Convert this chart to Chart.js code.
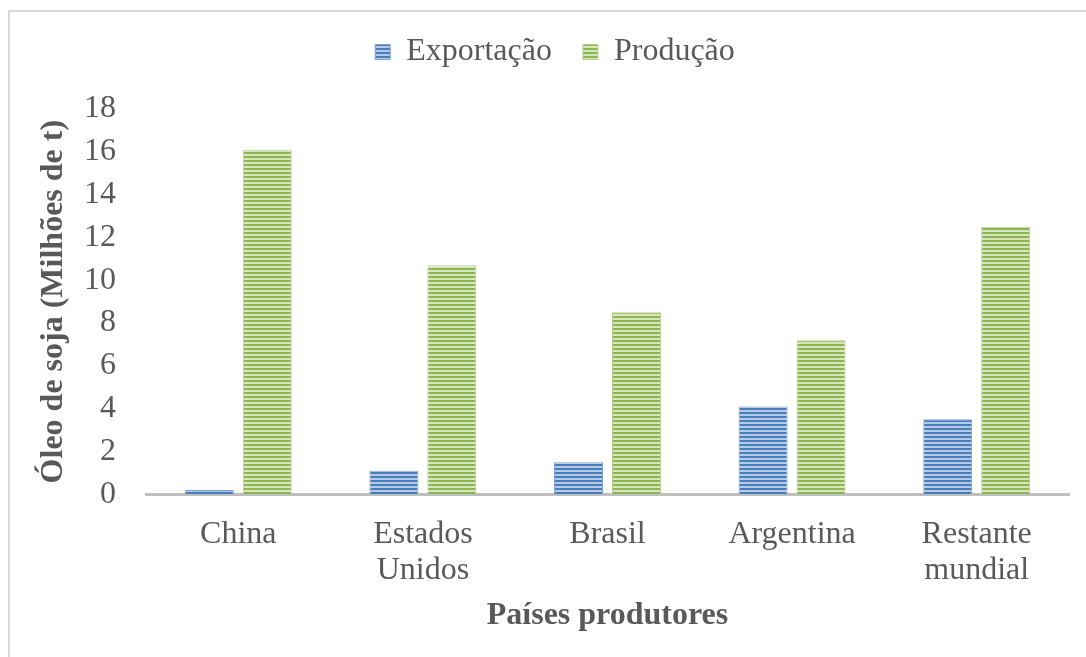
<!DOCTYPE html>
<html><head><meta charset="utf-8">
<script src="https://cdn.jsdelivr.net/npm/chart.js@4"></script>
<style>
html,body{margin:0;padding:0;background:#fff;overflow:hidden;}
#wrap{position:absolute;left:0;top:0;width:1086px;height:657px;}
#frame{position:absolute;left:8px;top:10px;width:1100px;height:700px;border:2px solid #d9d9d9;box-sizing:border-box;}
</style></head>
<body>
<div id="frame"></div>
<div id="wrap"><canvas id="c" width="1086" height="657"></canvas></div>
<script>
const categories = [['China'], ['Estados','Unidos'], ['Brasil'], ['Argentina'], ['Restante','mundial']];
const exportacao = [0.2, 1.1, 1.5, 4.1, 3.5];
const producao = [16.1, 10.7, 8.5, 7.2, 12.5];
const seriesNames = ['Exportação', 'Produção'];

function stripe(dark, light) {
  const c = document.createElement('canvas');
  c.width = 8; c.height = 4;
  const g = c.getContext('2d');
  g.fillStyle = light; g.fillRect(0,0,8,4);
  g.fillStyle = dark; g.fillRect(0,0,8,2);
  return g.createPattern(c, 'repeat');
}
const ctx = document.getElementById('c').getContext('2d');
const bluePat = stripe('#4a7ebb', '#b4cae6');
const greenPat = stripe('#8db651', '#d6e6bf');
const font = 'Liberation Serif, Times New Roman, serif';
const txt = '#595959';

const legendShift = {
  id: 'legendShift',
  afterLayout(chart) {
    if (chart.legend) { chart.legend.left += 3; chart.legend.right += 3; }
  }
};

const chart = new Chart(ctx, {
  type: 'bar',
  data: {
    labels: categories,
    datasets: [
      {label: seriesNames[0], data: exportacao, backgroundColor: bluePat, borderColor: '#7da1cf', borderWidth: 1, borderSkipped: 'bottom'},
      {label: seriesNames[1], data: producao, backgroundColor: greenPat, borderColor: '#b5d08e', borderWidth: 1, borderSkipped: 'bottom'}
    ]
  },
  plugins: [legendShift],
  options: {
    responsive: false,
    animation: false,
    devicePixelRatio: 1,
    categoryPercentage: 0.628,
    barPercentage: 0.845,
    layout: {padding: {left: 35, right: 17, top: 5, bottom: 18}},
    plugins: {
      legend: {
        position: 'top',
        labels: {font: {family: font, size: 32}, color: txt, boxWidth: 15, boxHeight: 15, padding: 31}
      },
      tooltip: {enabled: false}
    },
    scales: {
      x: {
        grid: {display: false, drawTicks: false},
        border: {display: true, color: '#bfbfbf', width: 3},
        ticks: {font: {family: font, size: 32, lineHeight: 1.13}, color: txt, padding: 22, maxRotation: 0, autoSkip: false},
        title: {display: true, text: 'Países produtores', font: {family: font, size: 32, weight: 'bold'}, color: txt, padding: {top: -14}}
      },
      y: {
        min: 0, max: 18,
        afterFit(scale) { scale.width = 111; },
        ticks: {stepSize: 2, font: {family: font, size: 32}, color: txt, padding: 30},
        grid: {display: false, drawTicks: false},
        border: {display: false},
        title: {display: true, text: 'Óleo de soja (Milhões de t)', font: {family: font, size: 32, weight: 'bold'}, color: txt, padding: {top: 0, bottom: 0}}
      }
    }
  }
});
const origFit = chart.legend.fit;
chart.legend.fit = function() { origFit.call(this); this.height += 31; };
chart.update();
</script>
</body></html>
